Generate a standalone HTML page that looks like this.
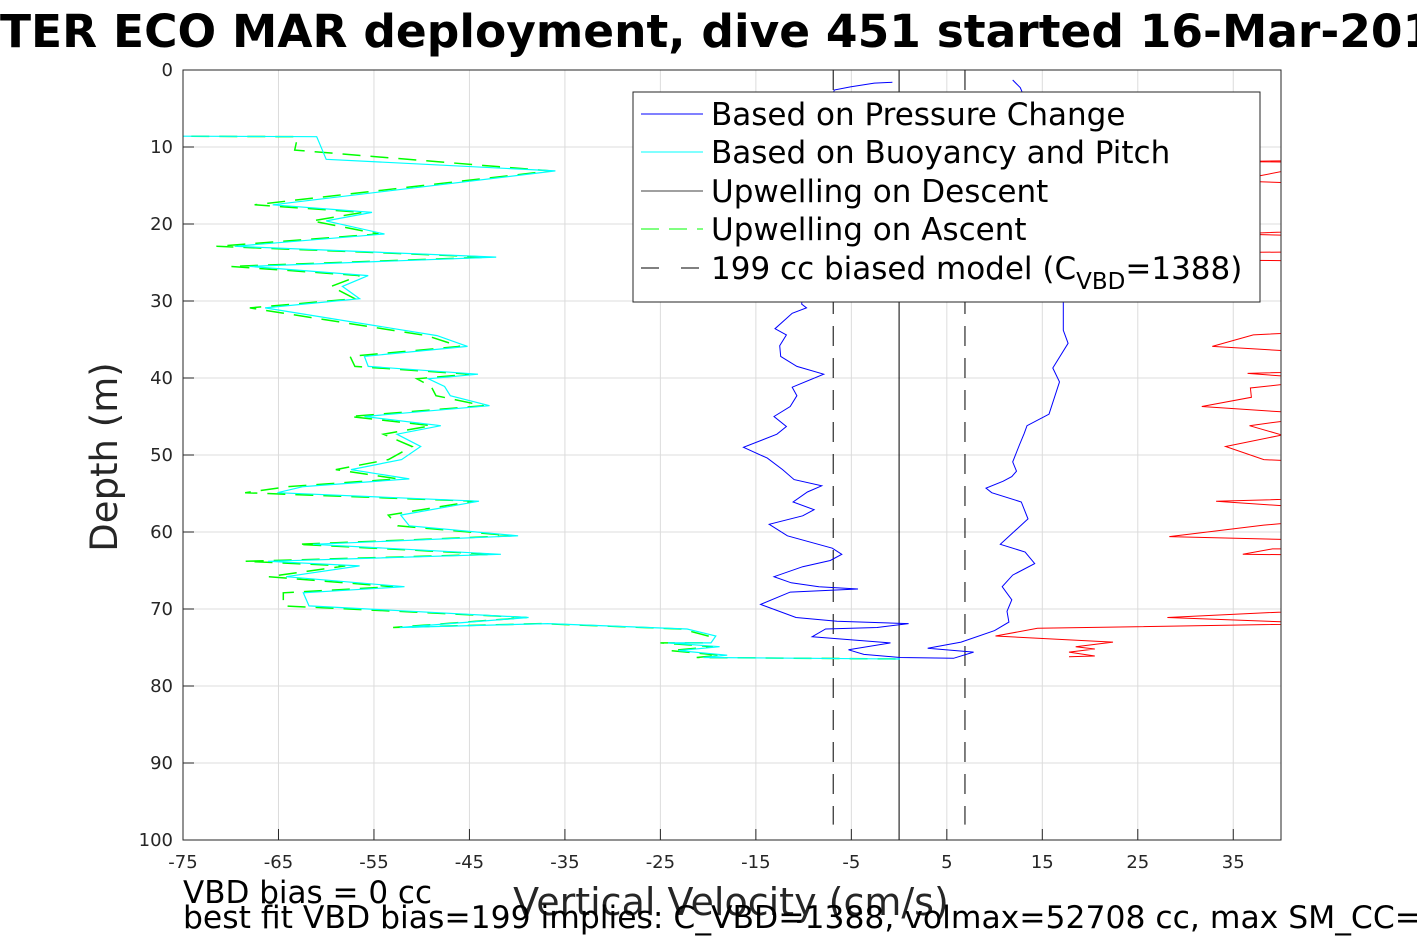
<!DOCTYPE html>
<html><head><meta charset="utf-8"><style>
html,body{margin:0;padding:0;background:#fff;overflow:hidden}
svg{display:block;font-family:"DejaVu Sans","Liberation Sans",sans-serif}
</style></head><body>
<svg id="chart" width="1417" height="945" viewBox="0 0 1417 945">
<defs><clipPath id="plotclip"><rect x="183" y="70" width="1098" height="770"/></clipPath></defs>
<rect x="0" y="0" width="1417" height="945" fill="#fff"/>
<text x="0" y="47" font-size="45.5" font-weight="bold" fill="#000">TER ECO MAR deployment, dive 451 started 16-Mar-2019</text>
<g id="grid"></g>
<g id="marks" clip-path="url(#plotclip)"></g>
<rect x="183" y="70" width="1098" height="770" fill="none" stroke="#262626" stroke-width="1"/>
<g id="ticks"></g>
<text transform="translate(117,457) rotate(-90)" text-anchor="middle" font-size="37" fill="#262626">Depth (m)</text>
<text x="731" y="915" text-anchor="middle" font-size="38" fill="#262626">Vertical Velocity (cm/s)</text>
<text x="183" y="903" font-size="31" fill="#000">VBD bias = 0 cc</text>
<text x="183" y="928" font-size="31.4" fill="#000">best fit VBD bias=199 implies: C_VBD=1388, volmax=52708 cc, max SM_CC=</text>
<g>
<rect x="633" y="92" width="627" height="210" fill="#fff" stroke="#262626" stroke-width="1"/>
<line x1="641" y1="114" x2="703" y2="114" stroke="#0000ff"/>
<text x="711" y="125" font-size="31">Based on Pressure Change</text>
<line x1="641" y1="152" x2="703" y2="152" stroke="#00ffff"/>
<text x="711" y="163" font-size="31">Based on Buoyancy and Pitch</text>
<line x1="641" y1="191" x2="703" y2="191" stroke="#000" stroke-width="0.8"/>
<text x="711" y="202" font-size="31">Upwelling on Descent</text>
<line x1="641" y1="229" x2="703" y2="229" stroke="#00ff00" stroke-dasharray="18,10"/>
<text x="711" y="240" font-size="31">Upwelling on Ascent</text>
<line x1="641" y1="268" x2="703" y2="268" stroke="#000" stroke-dasharray="18,22"/>
<text x="711" y="279" font-size="31">199 cc biased model (C<tspan font-size="23" dy="10">VBD</tspan><tspan dy="-10">=1388)</tspan></text>
</g>
</svg>
<script>
const xTicks=[-75,-65,-55,-45,-35,-25,-15,-5,5,15,25,35];
const yTicks=[0,10,20,30,40,50,60,70,80,90,100];
const modelBias=[-6.9,6.9];
const pressDepth=[1.6,1.7,2.2,2.6,15,30.4,30.9,31.6,33.6,34.4,35.8,37.2,38.5,39.5,41.2,42.3,43.7,45.0,46.3,47.3,49.0,50.4,51.9,53.2,54.0,54.8,56.1,57.1,57.9,59.0,60.5,62.1,62.9,63.7,64.5,65.8,66.6,67.1,67.4,67.8,69.4,71.1,71.6,71.9,72.4,72.6,73.6,74.4,75.3,75.9,76.3,76.4,75.6,75.1,74.3,72.8,71.7,70.3,68.8,67.1,65.6,64.1,62.6,61.6,58.3,56.1,54.9,54.3,53.4,52.8,52.1,50.9,48.7,47.2,46.2,44.7,40.5,38.7,35.5,33.8,30.4,15,2.3,1.3];
const pressVel=[-0.7,-2.6,-5.1,-6.8,-9,-10.2,-9.7,-11.2,-13.0,-11.8,-12.5,-12.4,-10.7,-7.9,-11.2,-10.7,-11.4,-13.1,-11.8,-12.8,-16.3,-13.8,-12.2,-11.0,-8.1,-9.6,-11.1,-8.9,-10.1,-13.6,-11.7,-7.0,-6.0,-7.2,-10.1,-13.1,-11.3,-8.4,-4.3,-11.4,-14.5,-10.8,-6.5,1.0,-2.3,-7.7,-9.1,-0.9,-5.3,-3.7,0.1,5.7,7.8,3.0,6.5,10.0,11.5,11.3,11.8,10.8,11.9,14.2,13.2,10.6,13.5,12.8,9.7,9.1,10.9,11.8,12.3,11.9,12.6,13.1,13.4,15.7,16.8,16.1,17.7,17.2,17.2,17,12.7,11.9];
const buoyDepth=[8.57,8.66,11.6,13.1,17.5,18.5,19.6,21.3,22.9,24.3,25.5,26.7,28.1,29.7,30.9,34.5,35.9,37.2,38.5,39.5,40.1,41.1,42.3,43.6,45.0,46.2,47.3,48.9,50.6,51.9,53.1,54.1,54.9,56.0,57.8,59.2,60.5,61.6,62.9,63.8,64.4,65.8,67.1,67.9,69.6,71.1,72.4,71.9,72.6,73.5,74.4,74.4,74.9,75.4,76.0,76.3,76.5];
const buoyVel=[-80,-61.0,-60.0,-36.0,-65.6,-55.2,-60.0,-53.9,-69.6,-42.2,-68.0,-55.6,-58.3,-56.5,-66.4,-48.4,-45.2,-56.0,-55.6,-44.1,-49.3,-47.6,-47.0,-42.9,-56.0,-48.0,-52.6,-50.1,-52.1,-57.4,-51.3,-62.4,-65.1,-44.0,-52.2,-51.3,-39.9,-61.4,-41.7,-66.1,-56.5,-64.2,-51.8,-62.4,-61.8,-38.8,-52.3,-36.8,-22.2,-19.2,-19.7,-24.2,-18.8,-23.1,-18.0,-20.5,0.1];
const ascDepth=[8.57,8.66,10.4,13.1,17.5,18.5,19.6,21.3,22.9,24.3,25.5,26.7,28.1,29.7,30.9,34.5,35.9,37.2,38.5,39.5,40.1,41.1,42.3,43.6,45.0,46.2,47.3,48.9,50.6,51.9,53.1,54.1,54.9,56.0,57.8,59.2,60.5,61.6,62.9,63.8,64.4,65.8,67.1,67.9,69.6,71.1,72.4,71.9,72.6,73.5,74.4,74.4,74.9,75.4,76.0,76.3,76.5];
const ascVel=[-80,-63.0,-63.3,-36.5,-67.5,-56.2,-61.5,-54.5,-71.5,-43.0,-70.0,-56.5,-59.5,-57.0,-68.0,-49.5,-46.0,-57.5,-57.0,-45.0,-50.5,-49.0,-48.5,-43.5,-57.5,-49.0,-54.0,-51.0,-53.5,-59.0,-52.5,-64.0,-68.5,-44.5,-53.5,-52.5,-40.5,-63.0,-42.5,-68.5,-58.0,-66.0,-53.0,-64.5,-64.5,-39.0,-53.0,-37.5,-22.8,-20.0,-20.2,-25.0,-19.5,-24.0,-18.8,-21.2,0.1];
const redDepth=[11.5,11.7,11.9,12.0,14.4,14.8,20.8,21.3,21.6,23.6,23.7,24.7,24.8,33.9,34.4,35.9,36.8,39.1,39.4,40.2,41.3,42.5,43.7,44.8,46.2,47.4,48.9,50.6,51.0,55.6,56.0,57.0,58.4,59.1,60.6,61.1,62.2,62.2,62.9,63.0,70.1,71.1,71.9,72.5,73.5,74.3,74.9,75.2,75.6,76.1,76.2];
const redVel=[45,45,35,45,35,45,45,35,45,45,35,35,45,45,37.1,32.8,45,45,36.5,45,36.8,36.9,31.7,45,36.7,40.1,34.2,38.2,45,45,33.2,45,45,38.2,28.3,45,45,39.1,36.0,45,45,28.1,45,14.5,10.1,22.4,18.5,20.5,17.8,20.5,17.8];

const NS='http://www.w3.org/2000/svg';
const X0=183,X1=1281,Y0=70,Y1=840,VMIN=-75,VMAX=40,DMIN=0,DMAX=100;
function xs(v){return X0+(v-VMIN)/(VMAX-VMIN)*(X1-X0);}
function ys(d){return Y0+(d-DMIN)/(DMAX-DMIN)*(Y1-Y0);}
const grid=document.getElementById('grid'),ticks=document.getElementById('ticks'),marks=document.getElementById('marks');
function mk(tag,attrs,parent){const e=document.createElementNS(NS,tag);for(const k in attrs)e.setAttribute(k,attrs[k]);parent.appendChild(e);return e;}
xTicks.forEach(v=>{
  const g=mk('line',{x1:xs(v),x2:xs(v),y1:Y0,y2:Y1,stroke:'#dcdcdc','stroke-width':1},grid);
  
  
  const t=mk('line',{x1:xs(v),x2:xs(v),y1:Y1,y2:Y1-11,stroke:'#262626'},ticks);
  
  
  const l=mk('text',{x:xs(v),y:868,'text-anchor':'middle','font-size':18,fill:'#262626'},ticks);
  l.textContent=v;
  
  
});
yTicks.forEach(d=>{
  const g=mk('line',{x1:X0,x2:X1,y1:ys(d),y2:ys(d),stroke:'#dcdcdc','stroke-width':1},grid);
  
  
  const t=mk('line',{x1:X0,x2:X0+11,y1:ys(d),y2:ys(d),stroke:'#262626'},ticks);
  
  
  const l=mk('text',{x:173,y:ys(d)+6,'text-anchor':'end','font-size':18,fill:'#262626'},ticks);
  l.textContent=d;
  
  
});
function poly(vel,dep,attrs,name){
  const pts=vel.map((v,i)=>xs(v).toFixed(1)+','+ys(dep[i]).toFixed(1)).join(' ');
  const p=mk('polyline',Object.assign({points:pts,fill:'none'},attrs),marks);
  
  
}
modelBias.forEach(b=>{
  const l=mk('line',{x1:xs(b),x2:xs(b),y1:Y0,y2:ys(98),stroke:'#000','stroke-dasharray':'20,12','stroke-width':1},marks);
  
  
});
const z=mk('line',{x1:xs(0),x2:xs(0),y1:Y0,y2:Y1,stroke:'#000','stroke-width':1},marks);


poly(redVel,redDepth,{stroke:'#ff0000','stroke-width':1},'upwelling-red-series');
poly(ascVel,ascDepth,{stroke:'#00ff00','stroke-width':1.5,'stroke-dasharray':'18,10'},'upwelling-ascent-series');
poly(buoyVel,buoyDepth,{stroke:'#00ffff','stroke-width':1.2},'buoyancy-pitch-series');
poly(pressVel,pressDepth,{stroke:'#0000ff','stroke-width':1},'pressure-change-series');
</script>
</body></html>
